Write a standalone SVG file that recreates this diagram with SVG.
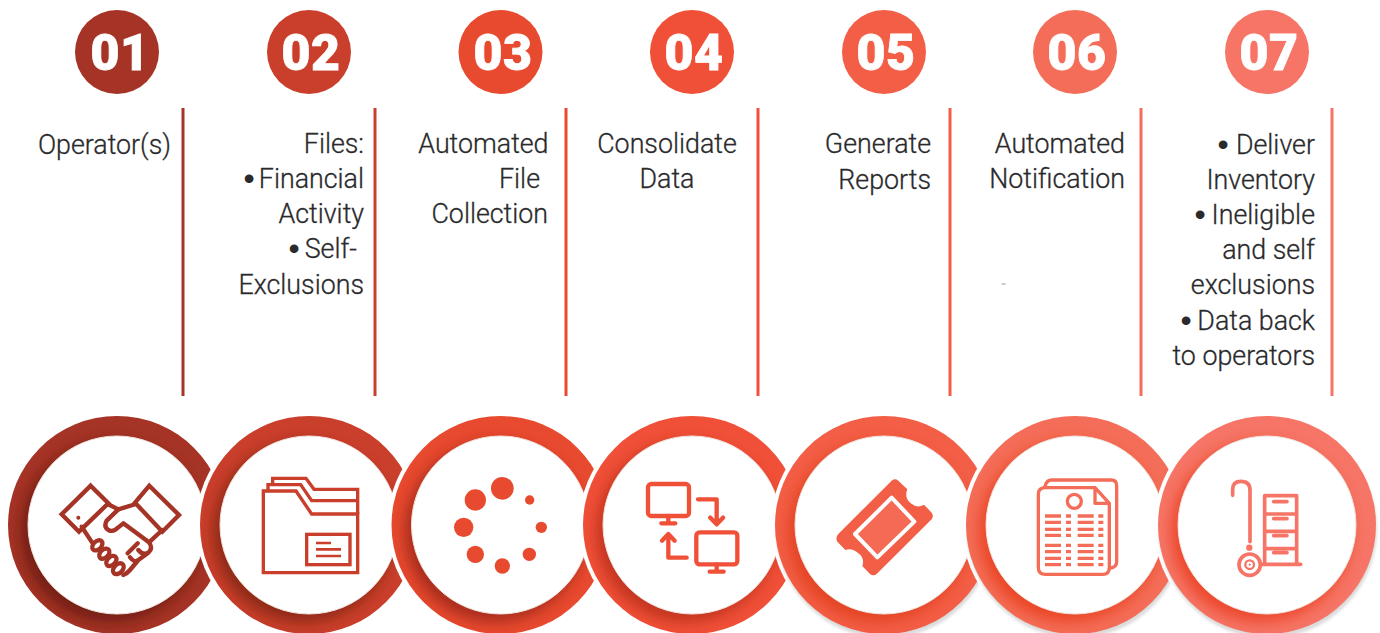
<svg xmlns="http://www.w3.org/2000/svg" width="1380" height="633" viewBox="0 0 1380 633">
<style>
text{font-family:"Roboto","Liberation Sans",sans-serif}
.t{font-size:26.800px;font-weight:300;fill:#2a2a2c;text-anchor:end;stroke:#2a2a2c;stroke-width:.3}
.c{text-anchor:middle}
.b{font-family:"Liberation Sans",sans-serif;font-size:32px;fill:#2a2a2c;text-anchor:middle}
.n{font-size:50px;font-weight:900;fill:#fff;stroke:#fff;stroke-width:.8;text-anchor:middle;font-family:"Roboto","Liberation Sans",sans-serif;letter-spacing:.5px}
.gap{fill:#fff}
.in{fill:#fff;stroke:#efe2dc;stroke-width:1}
.i{fill:none;stroke-width:10;stroke-linecap:round;stroke-linejoin:round}
.m{stroke-linejoin:miter;stroke-linecap:butt}
.sh{fill:#999;opacity:.35}
</style>
<defs>
<filter id="s" x="-30%" y="-30%" width="160%" height="160%"><feGaussianBlur stdDeviation="7"/></filter>
<filter id="g" x="-10%" y="-10%" width="120%" height="120%"><feGaussianBlur stdDeviation="1.500"/></filter>
<clipPath id="c1"><circle cx="117" cy="525" r="109"/></clipPath>
<clipPath id="c2"><circle cx="309" cy="525" r="109"/></clipPath>
<clipPath id="c3"><circle cx="500.500" cy="525" r="109"/></clipPath>
<clipPath id="c4"><circle cx="692" cy="525" r="109"/></clipPath>
<clipPath id="c5"><circle cx="884" cy="525" r="109"/></clipPath>
<clipPath id="c6"><circle cx="1075" cy="525" r="109"/></clipPath>
<clipPath id="c7"><circle cx="1267" cy="525" r="109"/></clipPath>
<clipPath id="a3"><rect x="400" y="120" width="148" height="120"/></clipPath>
</defs>
<rect width="1380" height="633" fill="#fff"/>

<g id="step-01">
<circle cx="117" cy="52" r="42" fill="#A53426"/>
<text class="n" x="120" y="70">01</text>
<rect x="181.500" y="108" width="3" height="288" fill="#A53426"/>
<text class="t" x="171" y="153.500">Operator(s)</text>
<circle cx="117" cy="525" r="109" fill="#A53426"/>
<g clip-path="url(#c1)"><circle cx="111" cy="532" r="90" fill="#5e170f" opacity=".72" filter="url(#s)"/></g>
<circle class="in" cx="117" cy="525" r="89"/>
<g transform="translate(55,480) scale(.33333)" stroke="#A53426" class="i" style="stroke-width:13">
<path class="m" d="M107,17L160,70L72,155L20,103Z"/><path class="m" d="M283,17L372,105L322,155L240,68Z"/>
<circle cx="70" cy="113" r="6" fill="#A53426" stroke="none"/>
<path d="M158,72L190,88L243,72"/>
<path d="M190,88L155,122Q145,140 160,150Q175,158 190,142L205,130L282,187Q295,205 280,218Q265,228 250,210M248,190L218,220M280,218L250,240Q238,250 225,232M250,240L225,270Q215,282 205,285"/>
<path d="M80,140L113,190M322,150L282,187"/>
<ellipse cx="127" cy="196" rx="18" ry="12" transform="rotate(-45 127 196)" fill="#fff"/>
<ellipse cx="148" cy="221" rx="18" ry="12" transform="rotate(-45 148 221)" fill="#fff"/>
<ellipse cx="169" cy="243" rx="18" ry="12" transform="rotate(-45 169 243)" fill="#fff"/>
<ellipse cx="190" cy="266" rx="19" ry="13" transform="rotate(-45 190 266)" fill="#fff"/>
</g>
</g>

<g id="step-02">
<circle cx="309" cy="52" r="42" fill="#CA3F2C"/>
<text class="n" x="311" y="70">02</text>
<rect x="373.500" y="108" width="3" height="288" fill="#CA3F2C"/>
<text class="t" x="364" y="152.500">Files:</text>
<text class="b" x="249" y="189">•</text><text class="t" x="364" y="187.500">Financial</text>
<text class="t" x="364" y="222.500">Activity</text>
<text class="b" x="294" y="259">•</text><text class="t" x="357" y="257.500">Self-</text>
<text class="t" x="364" y="293.500">Exclusions</text>
<circle class="gap" cx="309" cy="525" r="113"/>
<circle cx="309" cy="525" r="109" fill="#CA3F2C"/>
<g clip-path="url(#c2)"><circle cx="303" cy="532" r="90" fill="#74200f" opacity=".72" filter="url(#s)"/></g>
<circle class="in" cx="309" cy="525" r="89"/>
<g transform="translate(0,410) scale(.33333)" stroke="#CA3F2C" class="i m">
<path d="M790,488V243H888L935,312H1073V488Z"/>
<path d="M804,243V224H902L935,272H1073"/>
<path d="M818,224V205H918L942,238H1073V312"/>
<rect x="920" y="373" width="130" height="91"/>
<path d="M948,399H993M948,418H1023M948,438H1023" stroke-width="8"/>
</g>
</g>

<g id="step-03">
<circle cx="500.500" cy="52" r="42" fill="#E84A2F"/>
<text class="n" x="503" y="70">03</text>
<rect x="564.500" y="108" width="3" height="288" fill="#E84A2F"/>
<g clip-path="url(#a3)"><text class="t" x="548.500" y="152.500">Automated</text></g>
<text class="t" x="540" y="187.500">File</text>
<text class="t" x="548" y="222.500">Collection</text>
<circle class="gap" cx="500.500" cy="525" r="113"/>
<circle cx="500.500" cy="525" r="109" fill="#E84A2F"/>
<g clip-path="url(#c3)"><circle cx="494.500" cy="532" r="90" fill="#8f2115" opacity=".72" filter="url(#s)"/></g>
<circle class="in" cx="500.500" cy="525" r="89"/>
<g transform="translate(400,410) scale(.33333)" fill="#E84A2F">
<circle cx="307" cy="235" r="34"/><circle cx="226" cy="270" r="32"/><circle cx="191" cy="352" r="29"/><circle cx="226" cy="433" r="26"/><circle cx="307" cy="468" r="23"/><circle cx="388" cy="433" r="20"/><circle cx="424" cy="352" r="17"/><circle cx="389" cy="270" r="14"/>
</g>
</g>

<g id="step-04">
<circle cx="692" cy="52" r="42" fill="#F05038"/>
<text class="n" x="694" y="70">04</text>
<rect x="756.500" y="108" width="3" height="288" fill="#F05038"/>
<text class="t c" x="667" y="152.500">Consolidate</text>
<text class="t c" x="667" y="187.500">Data</text>
<circle class="gap" cx="692" cy="525" r="113"/>
<circle cx="692" cy="525" r="109" fill="#F05038"/>
<g clip-path="url(#c4)"><circle cx="686" cy="532" r="90" fill="#b02a18" opacity=".72" filter="url(#s)"/></g>
<circle class="in" cx="692" cy="525" r="89"/>
<g transform="translate(400,410) scale(.33333)" stroke="#F05038" class="i" style="stroke-width:13">
<rect x="744" y="222" width="123" height="96" rx="10"/>
<path d="M805,318V340M784,340H826"/>
<rect x="889" y="367" width="123" height="96" rx="10"/>
<path d="M950,463V485M929,485H971"/>
<path d="M894,268H950V340M931,323L950,343L969,323"/>
<path d="M860,443H805V374M786,392L805,372L824,392"/>
</g>
</g>

<g id="step-05">
<circle cx="884" cy="52" r="42" fill="#F35E46"/>
<text class="n" x="886" y="70">05</text>
<rect x="948.500" y="108" width="3" height="288" fill="#F35E46"/>
<text class="t" x="931" y="152.500">Generate</text>
<text class="t" x="931" y="188.500">Reports</text>
<circle class="gap" cx="884" cy="525" r="113"/>
<circle class="sh" cx="885" cy="529" r="109" filter="url(#g)"/>
<circle cx="884" cy="525" r="109" fill="#F35E46"/>
<g clip-path="url(#c5)"><circle cx="878" cy="532" r="90" fill="#e0401f" opacity=".85" filter="url(#s)"/></g>
<circle class="in" cx="884" cy="525" r="89"/>
<g transform="translate(780,410) scale(.33333)">
<path fill="#F35E46" d="M335,212Q345,204 355,212L382,238Q372,262 392,280Q412,296 432,284L455,308Q462,318 455,328L290,492Q280,500 270,492L247,468Q255,445 235,430Q215,412 196,420L172,395Q165,383 175,372Z"/>
<path d="M335,263L403,335L292,442L225,372Z" fill="#F46A55" stroke="#fff" stroke-width="12" stroke-linejoin="round"/>
</g>
</g>

<g id="step-06">
<circle cx="1075" cy="52" r="42" fill="#F46D58"/>
<text class="n" x="1077" y="70">06</text>
<rect x="1139.500" y="108" width="3" height="288" fill="#F46D58"/>
<text class="t" x="1125" y="152.500">Automated</text>
<text class="t" x="1125" y="187.500">Notification</text>
<rect x="1001.500" y="283.500" width="4" height="1" fill="#999"/>
<circle class="gap" cx="1075" cy="525" r="113"/>
<circle class="sh" cx="1076" cy="529" r="109" filter="url(#g)"/>
<circle cx="1075" cy="525" r="109" fill="#F46D58"/>
<g clip-path="url(#c6)"><circle cx="1069" cy="532" r="90" fill="#e8401f" opacity=".85" filter="url(#s)"/></g>
<circle class="in" cx="1075" cy="525" r="89"/>
<g transform="translate(780,410) scale(.33333)" stroke="#F46D58" class="i">
<path d="M795,228Q800,210 815,210H993Q1010,210 1010,227V455Q1010,472 990,474"/>
<path d="M945,233H797Q775,233 775,253V473Q775,493 797,493H968Q988,493 988,473V280L945,233V280H988" fill="#fff"/>
<circle cx="883" cy="274" r="21"/>
<path class="m" d="M795,318H843M858,318H873M893,318H941M955,318H970M795,337H843M858,337H873M893,337H941M955,337H970M795,358H843M858,358H873M893,358H941M955,358H970M795,376H843M858,376H873M893,376H941M955,376H970M795,406H843M858,406H873M893,406H941M955,406H970M795,425H843M858,425H873M893,425H941M955,425H970M795,445H843M858,445H873M893,445H941M955,445H970M795,464H843M858,464H873M893,464H941M955,464H970"/>
</g>
</g>

<g id="step-07">
<circle cx="1267" cy="52" r="42" fill="#F67566"/>
<text class="n" x="1269" y="70">07</text>
<rect x="1330.500" y="108" width="3" height="288" fill="#F67566"/>
<text class="b" x="1223" y="155">•</text><text class="t" x="1315" y="153.500">Deliver</text>
<text class="t" x="1315" y="188.500">Inventory</text>
<text class="b" x="1200" y="225">•</text><text class="t" x="1315" y="223.500">Ineligible</text>
<text class="t" x="1315" y="258.500">and self</text>
<text class="t" x="1315" y="293.500">exclusions</text>
<text class="b" x="1186" y="331">•</text><text class="t" x="1315" y="329.500">Data back</text>
<text class="t" x="1315" y="364.500">to operators</text>
<circle class="gap" cx="1267" cy="525" r="113"/>
<circle class="sh" cx="1268" cy="529" r="109" filter="url(#g)"/>
<circle cx="1267" cy="525" r="109" fill="#F67566"/>
<g clip-path="url(#c7)"><circle cx="1261" cy="532" r="90" fill="#ea4024" opacity=".85" filter="url(#s)"/></g>
<circle class="in" cx="1267" cy="525" r="89"/>
<g transform="translate(1150,410) scale(.33333)" stroke="#F67566" class="i" style="stroke-width:11">
<path d="M248,256V238Q248,214 273,214Q300,214 300,240V395"/>
<circle cx="298" cy="413" r="4" fill="#F67566"/>
<circle cx="299" cy="464" r="32"/><circle cx="299" cy="464" r="13" stroke-width="7"/>
<circle cx="299" cy="464" r="2" fill="#F67566" stroke-width="3"/>
<path d="M344,257H440V463M344,257V463M344,312H440M344,364H440M344,416H440M335,463H452M371,275H411M371,326H411M371,377H411M371,428H411"/>
</g>
</g>
</svg>
